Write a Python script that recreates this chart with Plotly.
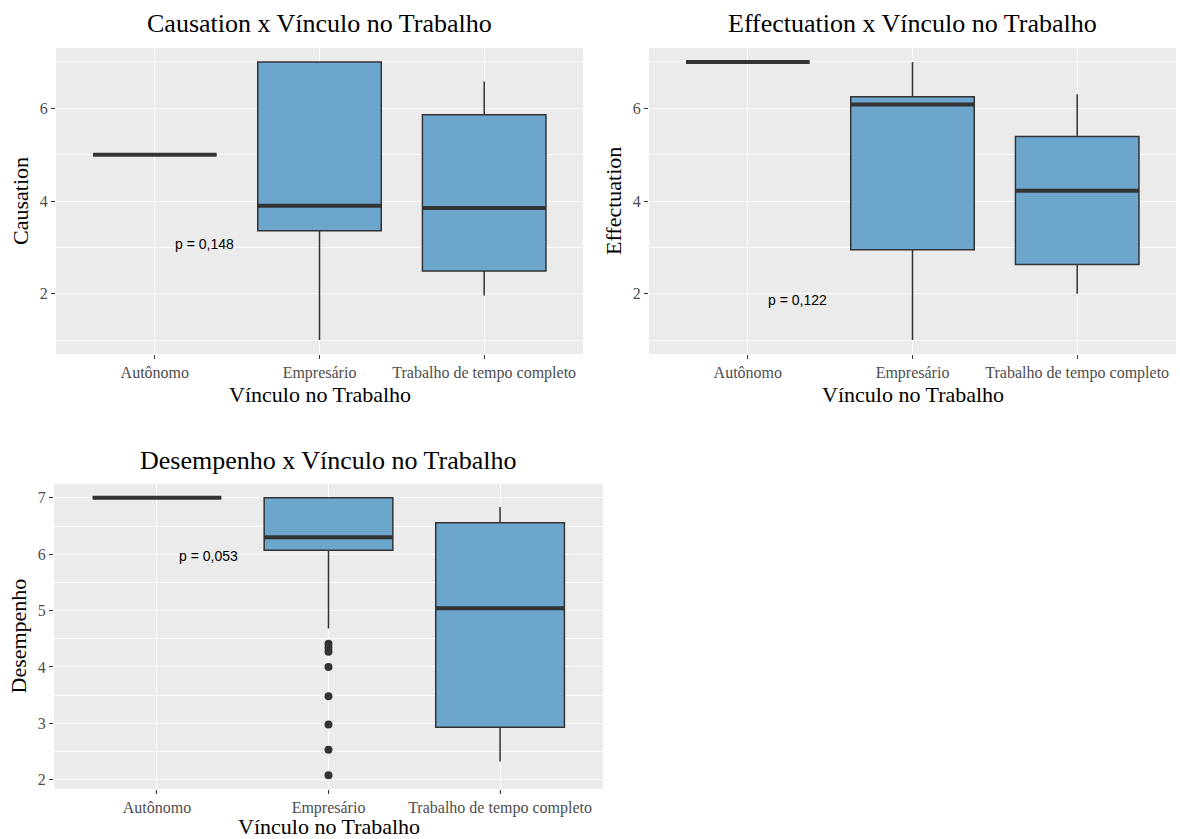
import plotly.graph_objects as go

# ---- data -------------------------------------------------------------
categorias = ["Autônomo", "Empresário", "Trabalho de tempo completo"]
posicoes = [1, 2, 3]

# Causation
caus_min = [5.00, 1.00, 1.96]
caus_q1 = [5.00, 3.36, 2.49]
caus_med = [5.00, 3.90, 3.85]
caus_q3 = [5.00, 7.00, 5.86]
caus_max = [5.00, 7.00, 6.58]

# Effectuation
eff_min = [7.00, 1.00, 2.00]
eff_q1 = [7.00, 2.95, 2.63]
eff_med = [7.00, 6.08, 4.22]
eff_q3 = [7.00, 6.25, 5.39]
eff_max = [7.00, 7.00, 6.30]

# Desempenho
des_min = [7.00, 4.68, 2.32]
des_q1 = [7.00, 6.07, 2.93]
des_med = [7.00, 6.30, 5.04]
des_q3 = [7.00, 7.00, 6.56]
des_max = [7.00, 7.00, 6.84]
des_outliers_empresario = [4.41, 4.34, 4.27, 4.00, 3.48, 2.98, 2.53, 2.08]

p_valores = ["p = 0,148", "p = 0,122", "p = 0,053"]
p_y = [3.07, 1.87, 5.97]
p_x = 1.3

# ---- styling ----------------------------------------------------------
W, H = 1180, 839
FILL = "#6CA6CD"
DARK = "#333333"
PANEL = "#EBEBEB"
SERIF = "Liberation Serif, Times New Roman, serif"
SANS = "Liberation Sans, Arial, sans-serif"
BOX_W = 0.75


def px_x(v):
    return v / W


def px_y(v):
    return 1 - v / H


fig = go.Figure()

paineis = [
    # (axis suffix, title, y title, stats, x-domain px, y-domain px, y-range, dtick, minor dtick, x-title px)
    ("", "Causation x Vínculo no Trabalho", "Causation",
     (caus_min, caus_q1, caus_med, caus_q3, caus_max),
     (56, 583), (48, 354), (0.7, 7.3), 2, 1, 394),
    ("2", "Effectuation x Vínculo no Trabalho", "Effectuation",
     (eff_min, eff_q1, eff_med, eff_q3, eff_max),
     (649, 1176), (48, 354), (0.7, 7.3), 2, 1, 394),
    ("3", "Desempenho x Vínculo no Trabalho", "Desempenho",
     (des_min, des_q1, des_med, des_q3, des_max),
     (54, 603), (484, 789), (1.834, 7.246), 1, 0.5, 826),
]

annotations = []
for i, (sfx, titulo, ytitulo, stats, xd, yd, yr, dt, mdt, xt_y) in enumerate(paineis):
    xa, ya = "x" + sfx, "y" + sfx
    lo, q1, med, q3, hi = stats
    fig.add_trace(go.Box(
        x=posicoes, q1=q1, median=med, q3=q3, lowerfence=lo, upperfence=hi,
        width=BOX_W, whiskerwidth=0, fillcolor=FILL,
        line=dict(color=DARK, width=1.5), boxpoints=False,
        xaxis=xa, yaxis=ya, showlegend=False, hoverinfo="skip",
    ))
    # thick median segments
    mx, my = [], []
    for p, m in zip(posicoes, med):
        mx += [p - BOX_W / 2, p + BOX_W / 2, None]
        my += [m, m, None]
    fig.add_trace(go.Scatter(
        x=mx, y=my, mode="lines", line=dict(color=DARK, width=4),
        xaxis=xa, yaxis=ya, showlegend=False, hoverinfo="skip",
    ))

    axis_common = dict(
        showline=False, zeroline=False, ticks="outside", ticklen=4,
        tickwidth=1.2, tickcolor=DARK,
        tickfont=dict(family=SERIF, size=16, color="#4D4D4D"),
        gridcolor="white", gridwidth=1.3,
    )
    fig.layout["xaxis" + sfx] = dict(
        axis_common, domain=[px_x(xd[0]), px_x(xd[1])], range=[0.4, 3.6],
        tickmode="array", tickvals=posicoes, ticktext=categorias,
        anchor=ya, fixedrange=True,
    )
    fig.layout["yaxis" + sfx] = dict(
        axis_common, domain=[px_y(yd[1]), px_y(yd[0])], range=list(yr),
        dtick=dt, tick0=0, anchor=xa, fixedrange=True,
        minor=dict(dtick=mdt, tick0=0, showgrid=True, gridcolor="white",
                   gridwidth=0.6, ticks=""),
    )

    cx = (xd[0] + xd[1]) / 2
    cy = (yd[0] + yd[1]) / 2
    annotations.append(dict(
        text=titulo, x=px_x(cx), y=px_y(yd[0] - 24), xref="paper", yref="paper",
        xanchor="center", yanchor="middle", showarrow=False,
        font=dict(family=SERIF, size=26, color="black"),
    ))
    annotations.append(dict(
        text="Vínculo no Trabalho", x=px_x(cx), y=px_y(xt_y),
        xref="paper", yref="paper", xanchor="center", yanchor="middle",
        showarrow=False, font=dict(family=SERIF, size=22, color="black"),
    ))
    annotations.append(dict(
        text=ytitulo, x=px_x(xd[0] - 36), y=px_y(cy), xref="paper", yref="paper",
        xanchor="center", yanchor="middle", textangle=-90, showarrow=False,
        font=dict(family=SERIF, size=22, color="black"),
    ))
    annotations.append(dict(
        text=p_valores[i], x=p_x, y=p_y[i], xref=xa, yref=ya,
        xanchor="center", yanchor="middle", showarrow=False,
        font=dict(family=SANS, size=14, color="black"),
    ))

# outliers of the Empresário group in Desempenho
fig.add_trace(go.Scatter(
    x=[2] * len(des_outliers_empresario), y=des_outliers_empresario,
    mode="markers", marker=dict(color=DARK, size=8),
    xaxis="x3", yaxis="y3", showlegend=False, hoverinfo="skip",
))

fig.update_layout(
    width=W, height=H, margin=dict(l=0, r=0, t=0, b=0),
    paper_bgcolor="white", plot_bgcolor=PANEL,
    annotations=annotations, showlegend=False,
)

fig.write_html("out.html", config={"displayModeBar": False})
